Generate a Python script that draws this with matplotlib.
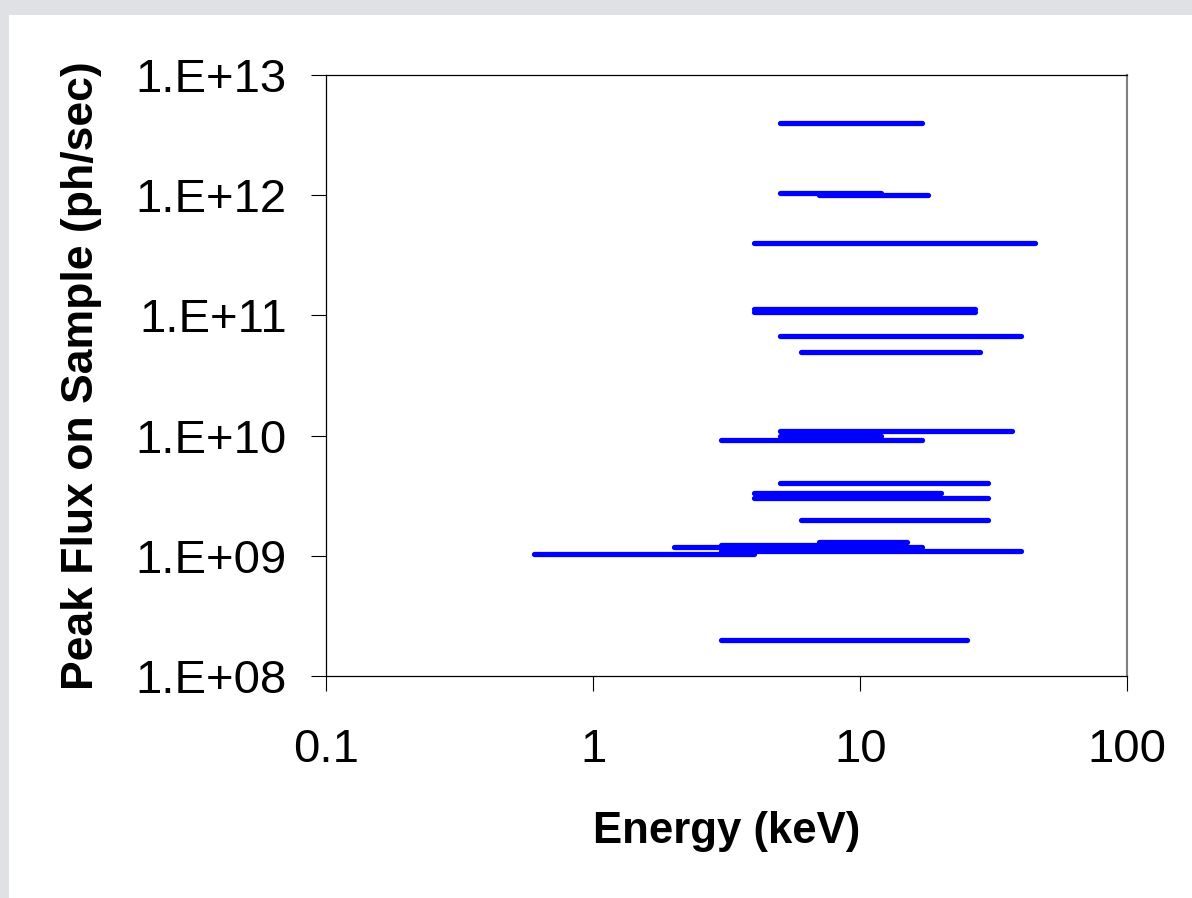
import matplotlib
matplotlib.use("Agg")
import matplotlib.pyplot as plt
from matplotlib.ticker import FixedLocator, NullLocator
from matplotlib.patches import Rectangle

# energy range of each source (keV) and its peak flux (ph/sec)
e_low = [5, 5, 7, 4, 4, 4, 5, 6, 5, 5, 3, 5, 4, 4, 6, 7, 2, 3, 3, 0.6, 3]
e_high = [17, 12, 18, 45, 27, 27, 40, 28, 37, 12, 17, 30, 20, 30, 30, 15, 17, 7, 40, 4, 25]
flux = [4e12, 1.05e12, 1.0e12, 4e11, 1.13e11, 1.07e11, 6.8e10, 5e10,
        1.1e10, 1.0e10, 9.2e9, 4e9, 3.3e9, 3e9, 2e9, 1.3e9, 1.18e9, 1.23e9,
        1.1e9, 1.04e9, 2e8]

x_ticks = [0.1, 1, 10, 100]
x_labels = ["0.1", "1", "10", "100"]
y_ticks = [1e8, 1e9, 1e10, 1e11, 1e12, 1e13]
y_labels = ["1.E+08", "1.E+09", "1.E+10", "1.E+11", "1.E+12", "1.E+13"]

plt.rcParams['font.family'] = ['Liberation Sans', 'DejaVu Sans']

fig = plt.figure(figsize=(11.92, 8.98), dpi=100)
fig.patch.set_facecolor("#e0e1e5")
# white panel inside the grey frame
fig.patches.append(Rectangle((9 / 1192, 0), 1, 1 - 15 / 898, transform=fig.transFigure,
                             facecolor="white", edgecolor="none", zorder=-10))

ax = fig.add_axes([0.2737, 0.2472, 0.672, 0.6693])
ax.set_facecolor("white")

for lo, hi, f in zip(e_low, e_high, flux):
    ax.plot([lo, hi], [f, f], color="#0000ff", linewidth=3.8, solid_capstyle="round")

ax.set_xscale("log")
ax.set_yscale("log")
ax.set_xlim(0.1, 100)
ax.set_ylim(1e8, 1e13)

ax.xaxis.set_major_locator(FixedLocator(x_ticks))
ax.xaxis.set_minor_locator(NullLocator())
ax.set_xticklabels(x_labels)
ax.yaxis.set_major_locator(FixedLocator(y_ticks))
ax.yaxis.set_minor_locator(NullLocator())
ax.set_yticklabels(y_labels)

ax.tick_params(axis="both", direction="out", length=10.5, width=0.8, color="black",
               labelsize=34)
ax.tick_params(axis="x", pad=27)
ax.tick_params(axis="y", pad=18)

for side in ["left", "bottom", "top"]:
    ax.spines[side].set_linewidth(0.9)
    ax.spines[side].set_color("black")
ax.spines["right"].set_linewidth(1.5)
ax.spines["right"].set_color("#808080")

ax.set_xlabel("Energy (keV)", fontsize=31.5, fontweight="bold", labelpad=28)
ax.set_ylabel("Peak Flux on Sample (ph/sec)", fontsize=32, fontweight="bold", labelpad=24)

fig.savefig("out.png", dpi=100, facecolor=fig.get_facecolor())
